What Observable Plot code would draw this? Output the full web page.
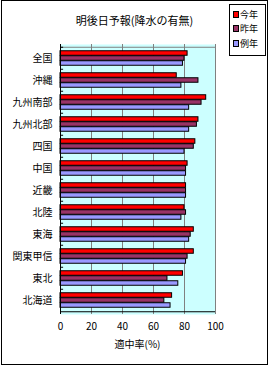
<!DOCTYPE html>
<html><head><meta charset="utf-8">
<script src="https://cdn.jsdelivr.net/npm/d3@7"></script>
<script src="https://cdn.jsdelivr.net/npm/@observablehq/plot@0.6"></script>
<style>
body{margin:0;background:#fff;font-family:"Noto Sans CJK JP",sans-serif;}
#wrap{position:relative;width:269px;height:366px;overflow:hidden;}
#frame{position:absolute;left:1px;top:0px;width:265px;height:363px;border:1px solid #000;}
#title{position:absolute;left:0;width:269px;top:12px;text-align:center;font-size:11px;color:#000;}
#xlabel{position:absolute;left:60px;width:155px;top:336px;text-align:center;font-size:10px;color:#000;}
#legend{position:absolute;left:229px;top:4px;width:35px;height:50px;border:1px solid #000;background:#fff;font-size:9px;}
#legend div{position:absolute;left:3px;display:flex;align-items:center;height:10px;}
#legend span.sw{display:inline-block;width:4px;height:5px;border:1px solid #000;margin-right:1px;}
#chart{position:absolute;left:0;top:0;}
</style></head>
<body><div id="wrap"><div id="chart"></div><div id="frame"></div><div id="title"></div><div id="xlabel"></div><div id="legend"></div></div>
<script>
const title = "明後日予報(降水の有無)";
const regions = ["全国","沖縄","九州南部","九州北部","四国","中国","近畿","北陸","東海","関東甲信","東北","北海道"];
const series = ["今年","昨年","例年"];
const colors = ["#FF0000","#993366","#9999FF"];
const thisYear = [82, 75, 94, 89, 87, 82, 81, 80, 86, 86, 79, 72];
const lastYear = [80, 89, 91, 88, 86, 81, 81, 81, 84, 82, 69, 67];
const normal   = [79, 78, 83, 83, 80, 81, 81, 78, 83, 81, 76, 71];
const xTicks = [0, 20, 40, 60, 80, 100];
const xLabel = "適中率(%)";

const values = [thisYear, lastYear, normal];
const table = [];
series.forEach((s, i) => regions.forEach((r, j) => table.push({region: r, series: s, value: values[i][j]})));

document.getElementById("title").textContent = title;
document.getElementById("xlabel").textContent = xLabel;
const lg = document.getElementById("legend");
series.forEach((s, i) => {
  const d = document.createElement("div");
  d.style.top = (4 + i * 14.5) + "px";
  d.innerHTML = `<span class="sw" style="background:${colors[i]}"></span>${s}`;
  lg.appendChild(d);
});

const band = 270 / regions.length;
const barH = 5;
const off = (band - 3 * barH) / 2;

const marks = [
  Plot.frame({fill: "#CCFFFF", stroke: null}),
  Plot.ruleX(xTicks.filter(d => d > 0), {stroke: "#808080"}),
  Plot.ruleY([regions[0]], {dy: -band / 2, stroke: "#808080"}),
];
series.forEach((s, i) => {
  marks.push(Plot.barX(table.filter(d => d.series === s), {
    x: "value", y: "region", fill: colors[i], stroke: "#000", strokeWidth: 1,
    insetTop: off + barH * i, insetBottom: band - (off + barH * (i + 1))
  }));
});
marks.push(
  Plot.ruleY(regions, {x1: 0, x2: 2, dy: -band / 2, stroke: "#000"}),
  Plot.ruleX([0], {stroke: "#000"}),
  Plot.ruleY([regions[regions.length - 1]], {dy: band / 2, stroke: "#000"})
);

const chart = Plot.plot({
  width: 269, height: 366,
  marginTop: 44, marginLeft: 60, marginRight: 54, marginBottom: 52,
  style: {background: "transparent", fontFamily: '"Noto Sans CJK JP", sans-serif', fontSize: "10px", color: "#000"},
  x: {domain: [0, 100], ticks: xTicks, tickSize: 0, tickPadding: 8, label: null},
  y: {domain: regions, padding: 0, tickSize: 0, tickPadding: 8, label: null},
  marks
});
document.getElementById("chart").appendChild(chart);
</script></body></html>
